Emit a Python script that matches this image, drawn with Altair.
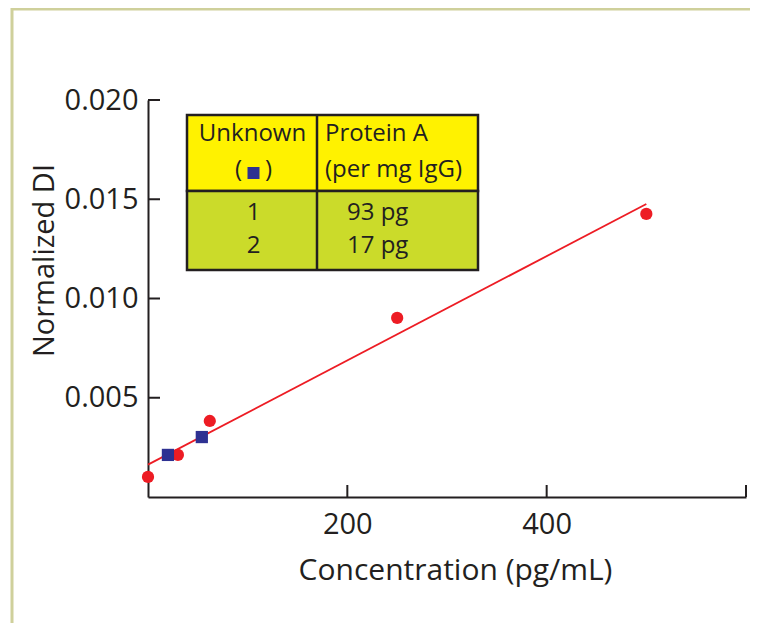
import altair as alt
import pandas as pd

# ---- data ----
std_conc = [0, 30, 62, 250, 500]
std_di = [0.00101, 0.00212, 0.00383, 0.00902, 0.01426]
unk_conc = [20, 54]
unk_di = [0.00212, 0.00302]
fit_conc = [0, 500]
fit_di = [0.00163, 0.01476]

x_ticks = [200, 400, 600]
x_labels = [200, 400]
y_ticks = [0.005, 0.010, 0.015, 0.020]

head_col1 = "Unknown"
head_col2 = ["Protein A", "(per mg IgG)"]
row_ids = ["1", "2"]
row_amounts = ["93 pg", "17 pg"]

FONT = "Open Sans"
INK = "#231f20"
RED = "#ed1c24"
BLUE = "#2e3192"
YELLOW = "#fff200"
GREEN = "#cbdb2a"
FRAME = "#cfd09b"

W, H = 598, 397
xs = alt.Scale(domain=[0, 600], nice=False, zero=True)
ys = alt.Scale(domain=[0, 0.020], nice=False, zero=True)

std_df = pd.DataFrame({"conc": std_conc, "di": std_di})
unk_df = pd.DataFrame({"conc": unk_conc, "di": unk_di})
fit_df = pd.DataFrame({"conc": fit_conc, "di": fit_di})
xt_df = pd.DataFrame({"conc": x_ticks})
yt_df = pd.DataFrame({"di": y_ticks})
one = pd.DataFrame({"k": [0]})

x_axis = alt.Axis(
    values=x_labels, format="d", grid=False, ticks=False, tickSize=0,
    domain=True, domainColor=INK, domainWidth=2,
    labelFont=FONT, labelFontSize=29, labelColor=INK,
    labelBaseline="alphabetic", labelPadding=36,
    title="Concentration (pg/mL)", titleFont=FONT, titleFontSize=30,
    titleFontWeight="normal", titleColor=INK, titleX=307, titleY=82,
    titleAlign="center", titleBaseline="alphabetic",
)
y_axis = alt.Axis(
    values=y_ticks, format=".3f", grid=False, ticks=False, tickSize=0,
    domain=True, domainColor=INK, domainWidth=2,
    labelFont=FONT, labelFontSize=29, labelColor=INK,
    labelPadding=10, labelBaseline="middle",
    title="Normalized DI", titleFont=FONT, titleFontSize=29,
    titleFontWeight="normal", titleColor=INK, titleAngle=-90,
    titleX=-95, titleY=160, titleAlign="center", titleBaseline="alphabetic",
)

X = alt.X("conc:Q", scale=xs, axis=x_axis)
Y = alt.Y("di:Q", scale=ys, axis=y_axis)

std = alt.Chart(std_df).mark_circle(size=150, color=RED, opacity=1).encode(x=X, y=Y)
fit = alt.Chart(fit_df).mark_line(color=RED, strokeWidth=1.8).encode(x=X, y=Y)
unk = alt.Chart(unk_df).mark_square(size=150, color=BLUE, opacity=1).encode(x=X, y=Y)
xticks = alt.Chart(xt_df).mark_rule(color=INK, strokeWidth=2).encode(
    x=X, y=alt.value(H), y2=alt.value(H - 12),
)
yticks = alt.Chart(yt_df).mark_rule(color=INK, strokeWidth=2).encode(
    y=Y, x=alt.value(0), x2=alt.value(12),
)

# ---- frame around the figure ----
frame_top = alt.Chart(one).mark_rule(color=FRAME, strokeWidth=3).encode(
    x=alt.value(-137), x2=alt.value(W + 20), y=alt.value(-91)
)
frame_left = alt.Chart(one).mark_rule(color=FRAME, strokeWidth=3).encode(
    x=alt.value(-136), y=alt.value(-92), y2=alt.value(H + 160)
)

# ---- inset table ----
TL, TR, TT, TM, TB, TD = 39, 330, 15, 91, 170, 169
head_rect = alt.Chart(one).mark_rect(fill=YELLOW, stroke=INK, strokeWidth=2.5).encode(
    x=alt.value(TL), x2=alt.value(TR), y=alt.value(TT), y2=alt.value(TM)
)
body_rect = alt.Chart(one).mark_rect(fill=GREEN, stroke=INK, strokeWidth=2.5).encode(
    x=alt.value(TL), x2=alt.value(TR), y=alt.value(TM), y2=alt.value(TB)
)
divider = alt.Chart(one).mark_rule(color=INK, strokeWidth=2.5).encode(
    x=alt.value(TD), y=alt.value(TT), y2=alt.value(TB)
)

def txt(s, x, y, align="center"):
    return alt.Chart(pd.DataFrame({"t": [s]})).mark_text(
        font=FONT, fontSize=24, color=INK, align=align, baseline="alphabetic"
    ).encode(text="t:N", x=alt.value(x), y=alt.value(y))

c1 = (TL + TD) / 2 + 0.5
table_layers = [head_rect, body_rect, divider,
                txt(head_col1, c1, 41),
                txt("(", c1 - 14, 77), txt(")", c1 + 16, 77),
                txt(head_col2[0], TD + 8, 41, "left"),
                txt(head_col2[1], TD + 8, 77, "left")]
for i, (rid, amt) in enumerate(zip(row_ids, row_amounts)):
    table_layers.append(txt(rid, c1 + 1, 120 + i * 33))
    table_layers.append(txt(amt, TD + 30, 120 + i * 33, "left"))
legend_sq = alt.Chart(one).mark_square(size=144, color=BLUE, opacity=1).encode(
    x=alt.value(c1 + 1), y=alt.value(73)
)
table_layers.append(legend_sq)

chart = alt.layer(
    frame_top, frame_left, fit, std, unk, xticks, yticks, *table_layers
).properties(
    width=W, height=H,
    autosize=alt.AutoSizeParams(type="none"),
    padding={"left": 140, "top": 92, "right": 4, "bottom": 126},
    background="white",
).configure_view(strokeWidth=0)

chart.save("out.html", embed_options={"renderer": "svg", "actions": False})
